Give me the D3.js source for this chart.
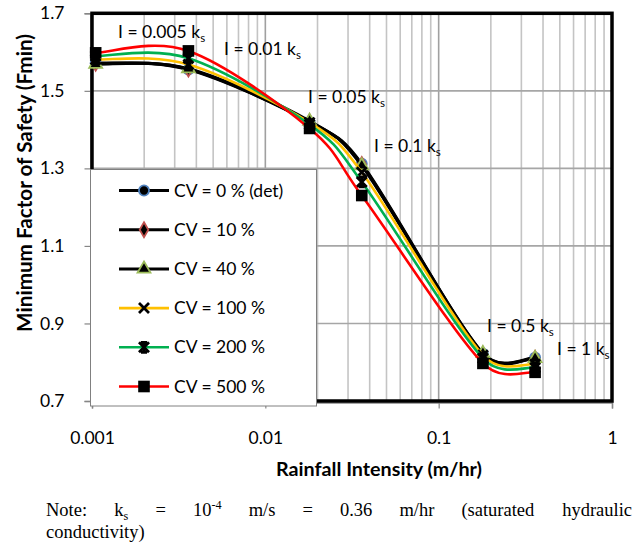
<!DOCTYPE html>
<html><head><meta charset="utf-8">
<script src="https://cdn.jsdelivr.net/npm/d3@7"></script>
<style>body{margin:0;background:#fff} svg{display:block}</style>
</head><body><svg id="c" width="634" height="559"></svg>
<script>
// ---- data ----
const intensity = [0.00105, 0.0036, 0.018, 0.036, 0.18, 0.36];
const seriesNames = ["CV = 0 % (det)", "CV = 10 %", "CV = 40 %", "CV = 100 %", "CV = 200 %", "CV = 500 %"];
const cv0   = [1.572, 1.555, 1.420, 1.312, 0.822, 0.812];
const cv10  = [1.571, 1.556, 1.420, 1.310, 0.820, 0.810];
const cv40  = [1.569, 1.557, 1.422, 1.307, 0.823, 0.810];
const cv100 = [1.581, 1.568, 1.418, 1.290, 0.818, 0.795];
const cv200 = [1.590, 1.584, 1.413, 1.265, 0.810, 0.786];
const cv500 = [1.598, 1.603, 1.403, 1.230, 0.797, 0.774];
const yTicks = [0.7, 0.9, 1.1, 1.3, 1.5, 1.7];
const xTicks = [0.001, 0.01, 0.1, 1];
const xTickLabels = ["0.001", "0.01", "0.1", "1"];
const annotations = ["I = 0.005 k", "I = 0.01 k", "I = 0.05 k", "I = 0.1 k", "I = 0.5 k", "I = 1 k"];

const seriesValues = [cv0, cv10, cv40, cv100, cv200, cv500];
const lineColors = ["#000", "#000", "#000", "#ffc000", "#00b050", "#ff0000"];
const markerTypes = ["circle", "diamond", "triangle", "x", "star", "square"];
const markerStroke = ["#4f81bd", "#c0504d", "#9bbb59", "#000", "#000", "#000"];

const svg = d3.select("#c");
const L = 92, R = 612, T = 13.3, B = 401;
const x = d3.scaleLog().domain([0.001, 1]).range([L, R]);
const y = d3.scaleLinear().domain([0.7, 1.7]).range([B, T]);
const sansFont = "Lato, 'Open Sans', sans-serif";

// Excel-like smoothed curve: Catmull-Rom tangents, control arms limited to half the segment
function ExcelCurve(context) { this._context = context; }
ExcelCurve.prototype = {
  areaStart() {}, areaEnd() {},
  lineStart() { this._pts = []; },
  point(px, py) { this._pts.push([+px, +py]); },
  lineEnd() {
    const p = this._pts, n = p.length, c = this._context;
    if (!n) return;
    c.moveTo(p[0][0], p[0][1]);
    for (let i = 0; i < n - 1; i++) {
      const p0 = p[Math.max(i - 1, 0)], p1 = p[i], p2 = p[i + 1], p3 = p[Math.min(i + 2, n - 1)];
      const seg = Math.hypot(p2[0] - p1[0], p2[1] - p1[1]);
      let a = [(p2[0] - p0[0]) / 6, (p2[1] - p0[1]) / 6];
      let b = [(p3[0] - p1[0]) / 6, (p3[1] - p1[1]) / 6];
      const la = Math.hypot(a[0], a[1]), lb = Math.hypot(b[0], b[1]);
      if (la > seg / 2) a = a.map(v => v * seg / 2 / la);
      if (lb > seg / 2) b = b.map(v => v * seg / 2 / lb);
      c.bezierCurveTo(p1[0] + a[0], p1[1] + a[1], p2[0] - b[0], p2[1] - b[1], p2[0], p2[1]);
    }
  }
};
const excelCurve = ctx => new ExcelCurve(ctx);

// grid
const minor = x.ticks().filter(d => d > 0.001 && d < 1);
svg.append("g").selectAll("line").data(minor).join("line")
  .attr("x1", d => x(d)).attr("x2", d => x(d)).attr("y1", T).attr("y2", B)
  .attr("stroke", d => (Math.abs(Math.log10(d) - Math.round(Math.log10(d))) < 1e-9) ? "#a0a0a0" : "#c4c4c4")
  .attr("stroke-width", 1.6);
svg.append("g").selectAll("line").data(yTicks.slice(1, -1)).join("line")
  .attr("x1", L).attr("x2", R).attr("y1", d => y(d)).attr("y2", d => y(d))
  .attr("stroke", "#a6a6a6").attr("stroke-width", 1.6);

// axes
const yAxis = svg.append("g").attr("transform", `translate(${L - 1.5},0)`)
  .call(d3.axisLeft(y).tickValues(yTicks).tickSize(6).tickPadding(20).tickFormat(d3.format(".1f")));
const xAxis = svg.append("g").attr("transform", `translate(0,${B + 1.5})`)
  .call(d3.axisBottom(x).tickValues(xTicks).tickSize(6).tickFormat((d, i) => xTickLabels[i]));
[yAxis, xAxis].forEach(a => {
  a.select(".domain").attr("stroke", "#868686").attr("stroke-width", 1.5);
  a.selectAll(".tick line").attr("stroke", "#868686").attr("stroke-width", 1.2);
  a.selectAll("text").attr("font-family", sansFont).attr("font-size", 17.5).attr("fill", "#000");
});
xAxis.selectAll("text").attr("dy", null).attr("y", 41);

// border
svg.append("rect").attr("x", L).attr("y", T).attr("width", R - L).attr("height", B - T)
  .attr("fill", "none").attr("stroke", "#000").attr("stroke-width", 3.5);

// markers
function drawMarker(g, type, cx, cy, stroke) {
  const s = 5;
  if (type === "x" || type === "star") {
    let p = `M${cx - s},${cy - s}L${cx + s},${cy + s}M${cx - s},${cy + s}L${cx + s},${cy - s}`;
    if (type === "star") p += `M${cx},${cy - s - 0.5}L${cx},${cy + s + 0.5}M${cx - 3},${cy - s}L${cx + 3},${cy - s}M${cx - 3},${cy + s}L${cx + 3},${cy + s}`;
    g.append("path").attr("d", p).attr("stroke", "#000").attr("stroke-width", 2.8).attr("fill", "none");
    return;
  }
  const sym = {circle: d3.symbolCircle, diamond: d3.symbolDiamond, triangle: d3.symbolTriangle, square: d3.symbolSquare}[type];
  const size = {circle: 80, diamond: 64, triangle: 72, square: 135}[type];
  g.append("path").attr("d", d3.symbol(sym, size)()).attr("transform", `translate(${cx},${cy})`)
    .attr("fill", "#000").attr("stroke", stroke).attr("stroke-width", type === "square" ? 0 : 1.8);
}

const line = d3.line().x((d, i) => x(intensity[i])).y(d => y(d)).curve(excelCurve);
seriesValues.forEach((vals, si) => {
  const g = svg.append("g");
  g.append("path").attr("d", line(vals)).attr("fill", "none").attr("stroke", lineColors[si])
    .attr("stroke-width", si < 3 ? 3 : 2.6);
  vals.forEach((v, i) => drawMarker(g, markerTypes[si], x(intensity[i]), y(v), markerStroke[si]));
});

// annotations
const annPos = [[118, 38], [224, 55], [308, 103], [374, 152], [487, 332], [557, 355]];
annotations.forEach((t, i) => {
  const tx = svg.append("text").attr("x", annPos[i][0]).attr("y", annPos[i][1])
    .attr("font-family", sansFont).attr("font-size", 17.5).attr("fill", "#000");
  tx.append("tspan").text(t);
  tx.append("tspan").attr("font-size", 11.5).attr("dy", 4).text("s");
});

// legend
const lg = svg.append("g");
lg.append("rect").attr("x", 90.5).attr("y", 169.5).attr("width", 226).attr("height", 236.5)
  .attr("fill", "#fff").attr("stroke", "#808080").attr("stroke-width", 1);
seriesNames.forEach((n, i) => {
  const cy = 190.5 + i * 39.2;
  lg.append("line").attr("x1", 119).attr("x2", 169).attr("y1", cy).attr("y2", cy)
    .attr("stroke", lineColors[i]).attr("stroke-width", i < 3 ? 3 : 2.6);
  drawMarker(lg, markerTypes[i], 144, cy, markerStroke[i]);
  lg.append("text").attr("x", 174).attr("y", cy).attr("dy", "0.35em")
    .attr("font-family", sansFont).attr("font-size", 17.5).text(n);
});

// axis titles (sized to the extents)
function fitText(sel, target) {
  const w = sel.node().getComputedTextLength();
  sel.attr("font-size", 20 * target / w);
}
const xt = svg.append("text").attr("x", 379).attr("y", 476).attr("text-anchor", "middle")
  .attr("font-family", sansFont).attr("font-weight", "bold").attr("font-size", 20).text("Rainfall Intensity (m/hr)");
fitText(xt, 206);
const yt = svg.append("text").attr("transform", `translate(25,183) rotate(-90)`).attr("text-anchor", "middle")
  .attr("dy", "0.35em").attr("font-family", sansFont).attr("font-weight", "bold").attr("font-size", 20)
  .text("Minimum Factor of Safety (Fmin)");
fitText(yt, 298);

// note (justified first line)
const serif = "'Liberation Serif', 'Times New Roman', serif";
const noteWords = [["Note:"], ["k", "sub", "s"], ["="], ["10", "sup", "-4"], ["m/s"], ["="], ["0.36"], ["m/hr"], ["(saturated"], ["hydraulic"]];
const noteLeft = 46, noteRight = 632, noteY1 = 516, noteY2 = 538, noteSize = 18.5;
const wordEls = noteWords.map(w => {
  const t = svg.append("text").attr("y", noteY1).attr("font-family", serif).attr("font-size", noteSize);
  t.append("tspan").text(w[0]);
  if (w[1] === "sub") t.append("tspan").attr("font-size", noteSize * 0.66).attr("dy", 4).text(w[2]);
  if (w[1] === "sup") t.append("tspan").attr("font-size", noteSize * 0.66).attr("dy", -7).text(w[2]);
  return t;
});
const widths = wordEls.map(t => t.node().getBBox().width);
const gap = (noteRight - noteLeft - d3.sum(widths)) / (widths.length - 1);
let cx = noteLeft;
wordEls.forEach((t, i) => { t.attr("x", cx); cx += widths[i] + gap; });
svg.append("text").attr("x", noteLeft).attr("y", noteY2).attr("font-family", serif).attr("font-size", noteSize)
  .text("conductivity)");
</script></body></html>
